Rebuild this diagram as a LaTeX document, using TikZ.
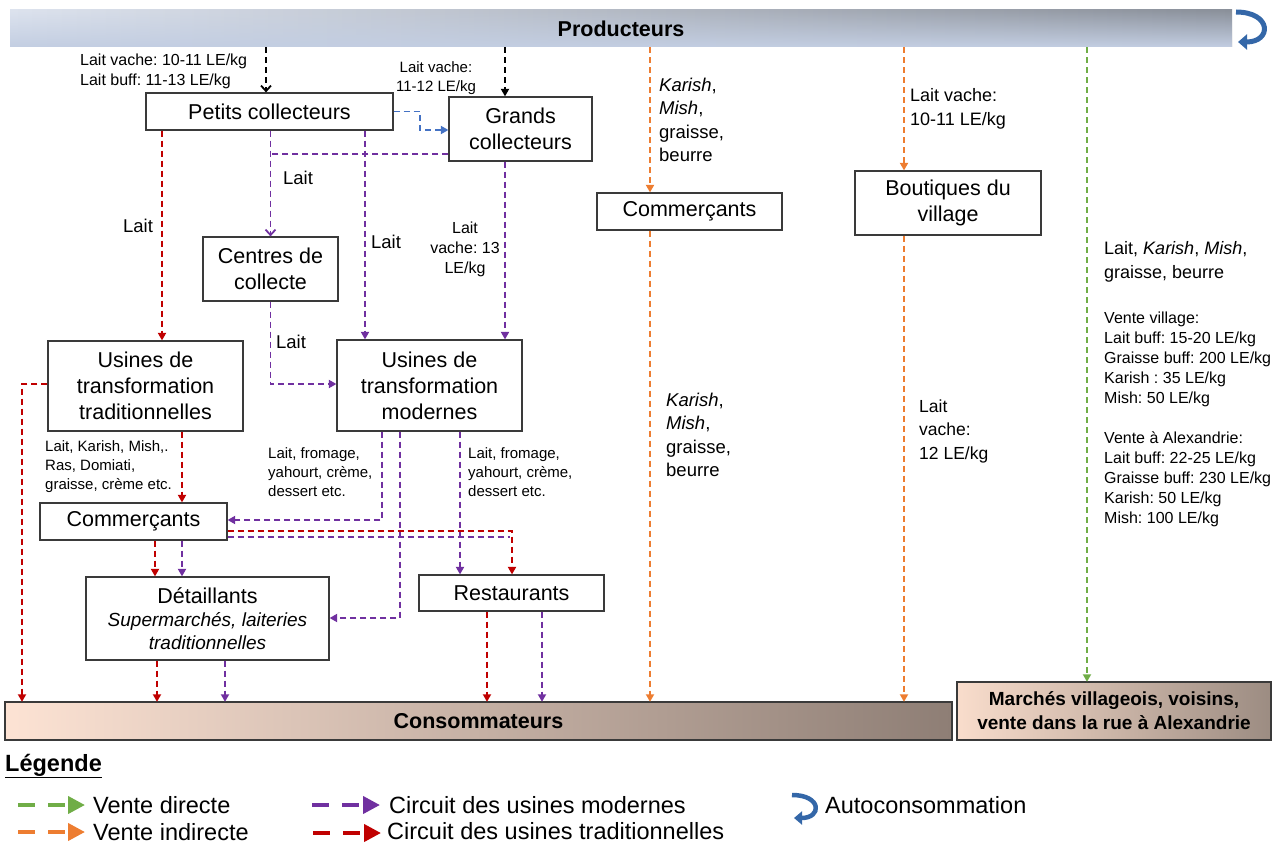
\documentclass[tikz,border=0pt]{standalone}
\usepackage{fontspec}
\setmainfont{Liberation Sans}
\frenchspacing
\usetikzlibrary{arrows.meta,fadings}
\definecolor{cred}{HTML}{C00000}
\definecolor{cpurple}{HTML}{7030A0}
\definecolor{corange}{HTML}{ED7D31}
\definecolor{cgreen}{HTML}{70AD47}
\definecolor{cblue}{HTML}{4472C4}
\definecolor{cloop}{HTML}{3467A8}
\definecolor{boxline}{HTML}{3A3A3A}
\definecolor{prodL}{HTML}{DDE3EE}
\definecolor{prodR}{HTML}{8A909A}
\definecolor{prodB}{HTML}{C3CEE2}
\definecolor{consL}{HTML}{FDE3D4}
\definecolor{consR}{HTML}{8E7E75}
\definecolor{markL}{HTML}{F9DDCC}
\definecolor{markR}{HTML}{9C8C82}
\tikzset{
  box/.style={draw=boxline, fill=white, line width=1.2pt, align=center, inner sep=0pt,
    font=\fontsize{21.5}{26}\selectfont},
  lbl/.style={inner sep=0pt, align=left, anchor=west},
  clbl/.style={inner sep=0pt, align=center},
  flow/.style={line width=1.8pt, dash pattern=on 6pt off 4pt, -{Triangle[length=7.5pt,width=8pt]}},
  flowopen/.style={line width=1.8pt, dash pattern=on 6pt off 4pt, -{Straight Barb[length=5.5pt,width=10pt]}},
  flowplain/.style={line width=1.8pt, dash pattern=on 6pt off 4pt},
  legline/.style={line width=4pt, dash pattern=on 17pt off 13pt, -{Triangle[length=17pt,width=17pt]}},
  loop/.style={cloop, line width=5pt, -{Triangle[length=9pt,width=15pt]}},
  fsA/.style={font=\fontsize{15}{19}\selectfont},
  fsB/.style={font=\fontsize{16}{20}\selectfont},
  fsC/.style={font=\fontsize{18.5}{23.5}\selectfont},
  fsL/.style={font=\fontsize{23.5}{28}\selectfont},
}
\begin{document}
\begin{tikzpicture}[x=1pt,y=-1pt]
\useasboundingbox (0,0) rectangle (1287,845);

% ---------- bars ----------
\shade[left color=prodL, right color=prodR] (10,10) rectangle (1232,47);
\fill[prodB, path fading=north] (10,10) rectangle (1232,47);
\node[inner sep=0pt, minimum width=1222pt, minimum height=37pt,
      font=\fontsize{21.5}{26}\selectfont\bfseries] (prod) at (621,28.5) {Producteurs};

\shade[left color=consL, right color=consR, draw=boxline, line width=1.2pt] (5,702) rectangle (952,740);
\node[inner sep=0pt, minimum width=947pt, minimum height=38pt,
      font=\fontsize{21.5}{26}\selectfont\bfseries] (conso) at (478.5,721) {Consommateurs};

\shade[left color=markL, right color=markR, draw=boxline, line width=1.2pt] (957,682) rectangle (1271,740);
\node[inner sep=0pt, minimum width=314pt, minimum height=58pt, align=center,
      font=\fontsize{19}{24}\selectfont\bfseries] (march) at (1114,711)
      {Marchés villageois, voisins,\\vente dans la rue à Alexandrie};

% self-consumption loop
\draw[loop] (1236,12) .. controls (1272,12) and (1272,42) .. (1238,42);

% ---------- boxes ----------
\node[box, minimum width=247pt, minimum height=37pt] (petits) at (269.5,111.5) {Petits collecteurs};
\node[box, minimum width=143pt, minimum height=64pt] (grands) at (520.5,129) {Grands\\collecteurs};
\node[box, minimum width=135pt, minimum height=64pt] (centres) at (270.5,269) {Centres de\\collecte};
\node[box, minimum width=195pt, minimum height=90pt] (utrad) at (145.5,386) {Usines de\\transformation\\traditionnelles};
\node[box, minimum width=185pt, minimum height=91pt] (umod) at (429.5,385.5) {Usines de\\transformation\\modernes};
\node[box, minimum width=187pt, minimum height=37pt] (comL) at (133.5,521.5) {Commerçants};
\node[box, minimum width=243pt, minimum height=83pt, font=\fontsize{19}{23}\selectfont] (detail) at (207.5,618.5)
  {{\fontsize{21.5}{26}\selectfont Détaillants}\\\textit{Supermarchés, laiteries}\\\textit{traditionnelles}};
\node[box, minimum width=185pt, minimum height=36pt] (resto) at (511.5,593) {Restaurants};
\node[box, minimum width=185pt, minimum height=37pt] (comM) at (689.5,211.5) {Commerçants};
\node[box, minimum width=186pt, minimum height=64pt] (bout) at (948,203) {Boutiques du\\village};

% ---------- connectors ----------
% producers to collectors
\draw[flowopen, black] (266,0 |- prod.south) -- (266,0 |- petits.north);
\draw[flow, black] (505,0 |- prod.south) -- (505,0 |- grands.north);
\draw[flow, cblue] (petits.east) -- (420,111.5) -- (420,130) -- (grands.west |- 0,130);

% collectors to centres and plants
\draw[flowopen, cpurple] (centres.north |- petits.south) -- (centres.north);
\draw[flowplain, cpurple] (grands.west |- 0,154) -- (centres.north |- 0,154);
\draw[flow, cpurple] (365,0 |- petits.south) -- (365,0 |- umod.north);
\draw[flow, cred] (162,0 |- petits.south) -- (162,0 |- utrad.north);
\draw[flow, cpurple] (505,0 |- grands.south) -- (505,0 |- umod.north);
\draw[flow, cpurple] (centres.south) -- (centres.south |- 0,384) -- (umod.west |- 0,384);

% traditional plants
\draw[flow, cred] (utrad.west |- 0,384) -- (22,384) -- (22,0 |- conso.north);
\draw[flow, cred] (182,0 |- utrad.south) -- (182,0 |- comL.north);

% modern plants
\draw[flow, cpurple] (382,0 |- umod.south) -- (382,520) -- (comL.east |- 0,520);
\draw[flow, cpurple] (400,0 |- umod.south) -- (400,618) -- (detail.east |- 0,618);
\draw[flow, cpurple] (460,0 |- umod.south) -- (460,0 |- resto.north);

% traders to retail and restaurants
\draw[flow, cred] (comL.east |- 0,531) -- (512,531) -- (512,0 |- resto.north);
\draw[flowplain, cpurple] (comL.east |- 0,537) -- (510,537);
\draw[flow, cred] (155,0 |- comL.south) -- (155,0 |- detail.north);
\draw[flow, cpurple] (182,0 |- comL.south) -- (182,0 |- detail.north);

% to consumers
\draw[flow, cred] (157,0 |- detail.south) -- (157,0 |- conso.north);
\draw[flow, cpurple] (225,0 |- detail.south) -- (225,0 |- conso.north);
\draw[flow, cred] (487,0 |- resto.south) -- (487,0 |- conso.north);
\draw[flow, cpurple] (542,0 |- resto.south) -- (542,0 |- conso.north);

% indirect sales
\draw[flow, corange] (650,0 |- prod.south) -- (650,0 |- comM.north);
\draw[flow, corange] (650,0 |- comM.south) -- (650,0 |- conso.north);
\draw[flow, corange] (904,0 |- prod.south) -- (904,0 |- bout.north);
\draw[flow, corange] (904,0 |- bout.south) -- (904,0 |- conso.north);

% direct sales
\draw[flow, cgreen] (1087,0 |- prod.south) -- (1087,0 |- march.north);

% ---------- labels ----------
\node[lbl, fsB] (l1) at (80,71) {Lait vache: 10-11 LE/kg\\Lait buff: 11-13 LE/kg};
\node[clbl, fsA] (l2) at (436,78.5) {Lait vache:\\11-12 LE/kg};
\node[clbl, fsC] (l3) at (138,226) {Lait};
\node[clbl, fsC] (l4) at (298,178) {Lait};
\node[clbl, fsC] (l5) at (386,242) {Lait};
\node[clbl, fsC] (l6) at (291,342) {Lait};
\node[clbl, fsB] (l7) at (465,249) {Lait\\vache: 13\\LE/kg};
\node[lbl, fsA] (l8) at (45,467) {Lait, Karish, Mish,.\\Ras, Domiati,\\graisse, crème etc.};
\node[lbl, fsA] (l9) at (268,472) {Lait, fromage,\\yahourt, crème,\\dessert etc.};
\node[lbl, fsA] (l10) at (468,472) {Lait, fromage,\\yahourt, crème,\\dessert etc.};
\node[lbl, fsC] (l11) at (659,120) {\textit{Karish},\\\textit{Mish},\\graisse,\\beurre};
\node[lbl, fsC] (l12) at (666,435) {\textit{Karish},\\\textit{Mish},\\graisse,\\beurre};
\node[lbl, font=\fontsize{18}{24}\selectfont] (l13) at (910,109) {Lait vache:\\10-11 LE/kg};
\node[lbl, font=\fontsize{17.5}{23.5}\selectfont] (l14) at (919,431) {Lait\\vache:\\12 LE/kg};
\node[lbl, font=\fontsize{18}{24}\selectfont] (l15) at (1104,262) {Lait, \textit{Karish}, \textit{Mish},\\graisse, beurre};
\node[lbl, fsB] (l16) at (1104,359) {Vente village:\\Lait buff: 15-20 LE/kg\\Graisse buff: 200 LE/kg\\Karish : 35 LE/kg\\Mish: 50 LE/kg};
\node[lbl, fsB] (l17) at (1104,479) {Vente à Alexandrie:\\Lait buff: 22-25 LE/kg\\Graisse buff: 230 LE/kg\\Karish: 50 LE/kg\\Mish: 100 LE/kg};

% ---------- legend ----------
\node[lbl, font=\fontsize{23.5}{28}\selectfont\bfseries] (legtitle) at (5,766) {\underline{Légende}};
\coordinate (g1) at (18,805);   \coordinate (g2) at (85,805);
\coordinate (o1) at (18,832);   \coordinate (o2) at (85,832);
\coordinate (p1) at (312,805);  \coordinate (p2) at (380,805);
\coordinate (r1) at (313,833);  \coordinate (r2) at (381,833);
\draw[legline, cgreen] (g1) -- (g2);
\draw[legline, corange] (o1) -- (o2);
\draw[legline, cpurple] (p1) -- (p2);
\draw[legline, cred] (r1) -- (r2);
\node[lbl, fsL] (t1) at (93,805) {Vente directe};
\node[lbl, fsL] (t2) at (93,832) {Vente indirecte};
\node[lbl, fsL] (t3) at (389,805) {Circuit des usines modernes};
\node[lbl, fsL] (t4) at (387,831) {Circuit des usines traditionnelles};
\draw[loop, line width=4.5pt, -{Triangle[length=8pt,width=13pt]}] (792,795) .. controls (822,795) and (822,818) .. (794,818);
\node[lbl, fsL] (t5) at (825,805) {Autoconsommation};
\end{tikzpicture}
\end{document}
